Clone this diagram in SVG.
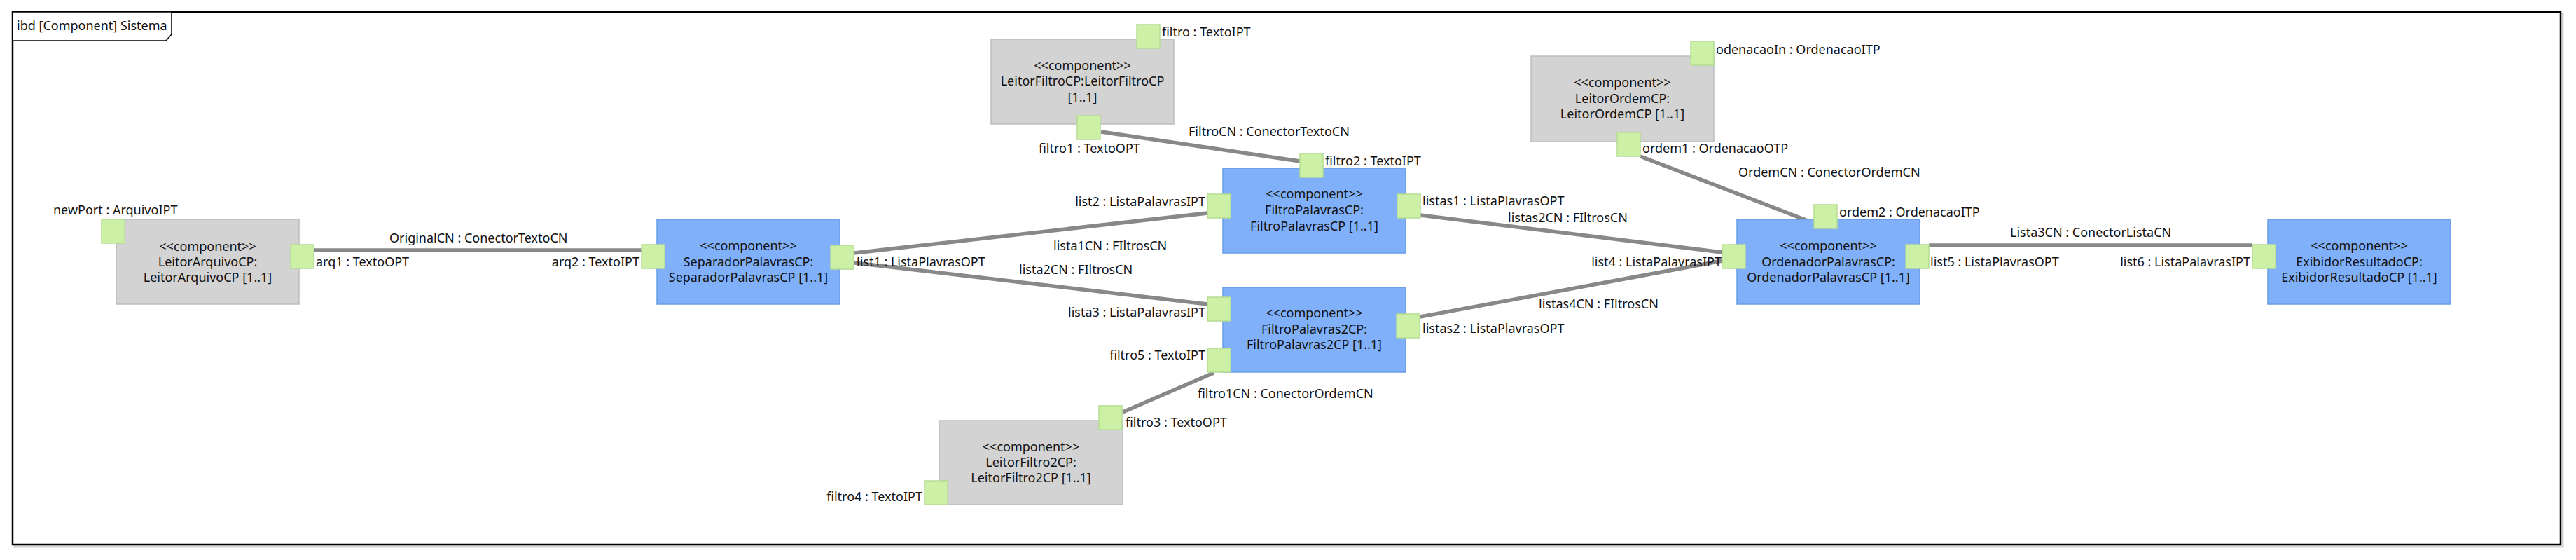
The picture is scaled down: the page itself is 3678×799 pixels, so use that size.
<svg xmlns="http://www.w3.org/2000/svg" width="3678" height="799" viewBox="0 0 3678 799">
<style>
text{font-family:"Noto Sans","Liberation Sans",sans-serif;font-size:18px;fill:#111}
.c{text-anchor:middle}
.gray{fill:#d3d3d3;stroke:#bdbdbd;stroke-width:1.5}
.blue{fill:#7fb0f9;stroke:#6a9ce8;stroke-width:1.5}
.port{fill:#ccf0a6;stroke:#b5dc92;stroke-width:1.5}
.conn{stroke:#888;stroke-width:5.5;fill:none}
</style>
<rect width="3678" height="799" fill="#fff"/>
<g id="frame">
<rect x="21" y="20" width="3638" height="760" fill="none" stroke="#d4d4d4" stroke-width="3"/>
<rect x="18" y="17" width="3638" height="760" fill="#fff" stroke="#000" stroke-width="2.5"/>
<path d="M18,17 H245 V49 L237,58 H18" fill="#fff" stroke="#000" stroke-width="1.5"/>
<text x="24" y="43">ibd [Component] Sistema</text>
</g>
<g id="connectors">
<line class="conn" x1="449" y1="357" x2="916" y2="357"/>
<line class="conn" x1="1572" y1="188" x2="1856" y2="230"/>
<line class="conn" x1="1220" y1="361" x2="1724" y2="304"/>
<line class="conn" x1="1220" y1="375" x2="1724" y2="434"/>
<line class="conn" x1="2028" y1="307" x2="2459" y2="360"/>
<line class="conn" x1="2028" y1="452" x2="2459" y2="372"/>
<line class="conn" x1="1733" y1="532" x2="1603" y2="588"/>
<line class="conn" x1="2342" y1="223" x2="2589" y2="318"/>
<line class="conn" x1="2754" y1="350" x2="3216" y2="350"/>
<text x="556" y="346">OriginalCN : ConectorTextoCN</text>
<text x="1697" y="194">FiltroCN : ConectorTextoCN</text>
<text x="1504" y="357">lista1CN : FIltrosCN</text>
<text x="1455" y="391">lista2CN : FIltrosCN</text>
<text x="2153" y="317">listas2CN : FIltrosCN</text>
<text x="2197" y="440">listas4CN : FIltrosCN</text>
<text x="1710" y="568">filtro1CN : ConectorOrdemCN</text>
<text x="2482" y="252">OrdemCN : ConectorOrdemCN</text>
<text x="2870" y="338">Lista3CN : ConectorListaCN</text>
</g>
<g id="LeitorArquivoCP">
<rect class="gray" x="166" y="313" width="261" height="121"/>
<text class="c" x="296.5" y="358">&lt;&lt;component&gt;&gt;</text>
<text class="c" x="296.5" y="380">LeitorArquivoCP:</text>
<text class="c" x="296.5" y="402">LeitorArquivoCP [1..1]</text>
<rect class="port" x="145" y="313" width="33" height="34"/>
<text x="76" y="306">newPort : ArquivoIPT</text>
<rect class="port" x="415" y="349" width="33" height="34"/>
<text x="451" y="380">arq1 : TextoOPT</text>
</g>
<g id="SeparadorPalavrasCP">
<rect class="blue" x="938" y="313" width="261" height="121"/>
<text class="c" x="1068.5" y="357">&lt;&lt;component&gt;&gt;</text>
<text class="c" x="1068.5" y="380">SeparadorPalavrasCP:</text>
<text class="c" x="1068.5" y="402">SeparadorPalavrasCP [1..1]</text>
<rect class="port" x="916" y="349" width="33" height="34"/>
<text x="913" y="380" text-anchor="end">arq2 : TextoIPT</text>
<rect class="port" x="1186" y="350" width="33" height="34"/>
<text x="1223" y="380">list1 : ListaPlavrasOPT</text>
</g>
<g id="LeitorFiltroCP">
<rect class="gray" x="1415" y="56" width="261" height="121"/>
<text class="c" x="1545.5" y="100">&lt;&lt;component&gt;&gt;</text>
<text class="c" x="1545.5" y="122">LeitorFiltroCP:LeitorFiltroCP</text>
<text class="c" x="1545.5" y="145">[1..1]</text>
<rect class="port" x="1623" y="35" width="33" height="34"/>
<text x="1659" y="52">filtro : TextoIPT</text>
<rect class="port" x="1538" y="165" width="33" height="34"/>
<text x="1483" y="218">filtro1 : TextoOPT</text>
</g>
<g id="FiltroPalavrasCP">
<rect class="blue" x="1746" y="240" width="261" height="121"/>
<text class="c" x="1876.5" y="283">&lt;&lt;component&gt;&gt;</text>
<text class="c" x="1876.5" y="306">FiltroPalavrasCP:</text>
<text class="c" x="1876.5" y="329">FiltroPalavrasCP [1..1]</text>
<rect class="port" x="1856" y="219" width="33" height="34"/>
<text x="1892" y="236">filtro2 : TextoIPT</text>
<rect class="port" x="1724" y="277" width="33" height="34"/>
<text x="1721" y="294" text-anchor="end">list2 : ListaPalavrasIPT</text>
<rect class="port" x="1995" y="277" width="33" height="34"/>
<text x="2031" y="293">listas1 : ListaPlavrasOPT</text>
</g>
<g id="FiltroPalavras2CP">
<rect class="blue" x="1746" y="410" width="261" height="121"/>
<text class="c" x="1876.5" y="453">&lt;&lt;component&gt;&gt;</text>
<text class="c" x="1876.5" y="476">FiltroPalavras2CP:</text>
<text class="c" x="1876.5" y="498">FiltroPalavras2CP [1..1]</text>
<rect class="port" x="1724" y="424" width="33" height="34"/>
<text x="1721" y="452" text-anchor="end">lista3 : ListaPalavrasIPT</text>
<rect class="port" x="1724" y="497" width="33" height="34"/>
<text x="1721" y="513" text-anchor="end">filtro5 : TextoIPT</text>
<rect class="port" x="1994" y="448" width="33" height="34"/>
<text x="2031" y="475">listas2 : ListaPlavrasOPT</text>
</g>
<g id="LeitorFiltro2CP">
<rect class="gray" x="1341" y="600" width="262" height="120"/>
<text class="c" x="1472" y="644">&lt;&lt;component&gt;&gt;</text>
<text class="c" x="1472" y="666">LeitorFiltro2CP:</text>
<text class="c" x="1472" y="688">LeitorFiltro2CP [1..1]</text>
<rect class="port" x="1569" y="579" width="33" height="34"/>
<text x="1607" y="609">filtro3 : TextoOPT</text>
<rect class="port" x="1320" y="686" width="33" height="34"/>
<text x="1317" y="715" text-anchor="end">filtro4 : TextoIPT</text>
</g>
<g id="LeitorOrdemCP">
<rect class="gray" x="2186" y="80" width="261" height="122"/>
<text class="c" x="2316.5" y="124">&lt;&lt;component&gt;&gt;</text>
<text class="c" x="2316.5" y="147">LeitorOrdemCP:</text>
<text class="c" x="2316.5" y="169">LeitorOrdemCP [1..1]</text>
<rect class="port" x="2414" y="59" width="33" height="34"/>
<text x="2450" y="77">odenacaoIn : OrdenacaoITP</text>
<rect class="port" x="2309" y="189" width="33" height="34"/>
<text x="2345" y="218">ordem1 : OrdenacaoOTP</text>
</g>
<g id="OrdenadorPalavrasCP">
<rect class="blue" x="2480" y="313" width="261" height="121"/>
<text class="c" x="2610.5" y="357">&lt;&lt;component&gt;&gt;</text>
<text class="c" x="2610.5" y="380">OrdenadorPalavrasCP:</text>
<text class="c" x="2610.5" y="402">OrdenadorPalavrasCP [1..1]</text>
<rect class="port" x="2590" y="292" width="33" height="34"/>
<text x="2626" y="309">ordem2 : OrdenacaoITP</text>
<rect class="port" x="2459" y="349" width="33" height="34"/>
<text x="2458" y="380" text-anchor="end">list4 : ListaPalavrasIPT</text>
<rect class="port" x="2721" y="349" width="33" height="34"/>
<text x="2756" y="380">list5 : ListaPlavrasOPT</text>
</g>
<g id="ExibidorResultadoCP">
<rect class="blue" x="3238" y="313" width="261" height="121"/>
<text class="c" x="3368.5" y="357">&lt;&lt;component&gt;&gt;</text>
<text class="c" x="3368.5" y="380">ExibidorResultadoCP:</text>
<text class="c" x="3368.5" y="402">ExibidorResultadoCP [1..1]</text>
<rect class="port" x="3216" y="349" width="33" height="34"/>
<text x="3213" y="380" text-anchor="end">list6 : ListaPalavrasIPT</text>
</g>
</svg>
